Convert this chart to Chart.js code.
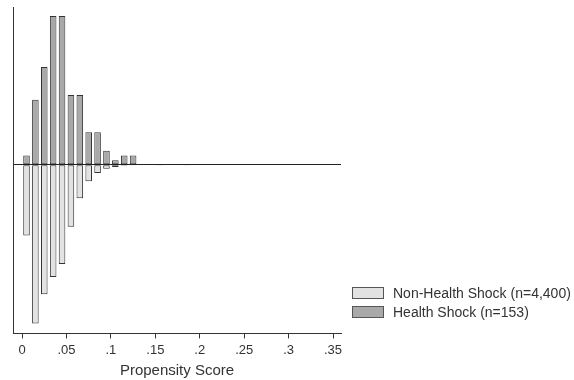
<!DOCTYPE html>
<html>
<head>
<meta charset="utf-8">
<script src="https://cdn.jsdelivr.net/npm/chart.js@4/dist/chart.umd.min.js"></script>
<style>
    body { margin: 0; background: #fff; }
    #wrap { position: relative; width: 574px; height: 380px; }
    #legend { position: absolute; left: 352px; top: 287px; font: 14px "Liberation Sans", Arial, sans-serif; color: #333; }
    #legend div { height: 19px; line-height: 13px; white-space: nowrap; }
    #legend span { display: inline-block; width: 30px; height: 10px; border: 1px solid #555; vertical-align: top; margin-right: 9px; }
</style>
</head>
<body>
<div id="wrap">
    <canvas id="psChart" width="574" height="380"></canvas>
    <div id="legend">
        <div><span style="background:#e2e2e2"></span>Non-Health Shock (n=4,400)</div>
        <div><span style="background:#a9a9a9"></span>Health Shock (n=153)</div>
    </div>
</div>
<script>
// bin centres of the propensity score histogram (bin width .01)
const binCenters = [0.005, 0.015, 0.025, 0.035, 0.045, 0.055, 0.065, 0.075, 0.085, 0.095,
                    0.105, 0.115, 0.125, 0.135, 0.145, 0.155, 0.165, 0.175, 0.185];
// share of each group in a bin
const healthShock = [0.0131, 0.0915, 0.1373, 0.2092, 0.2092, 0.0980, 0.0980, 0.0458, 0.0458, 0.0196,
                     0.0065, 0.0131, 0.0131, 0, 0, 0, 0, 0, 0];
const nonHealthShock = [0.0993, 0.2232, 0.1818, 0.1578, 0.1394, 0.0871, 0.0470, 0.0230, 0.0117, 0.0056,
                        0.0032, 0.0014, 0.0009, 0.0005, 0.0005, 0.0003, 0, 0, 0.0002];
const xTicks = [0, 0.05, 0.1, 0.15, 0.2, 0.25, 0.3, 0.35];

const fam = '"Liberation Sans", Arial, sans-serif';

const ctx = document.getElementById('psChart').getContext('2d');
const psChart = new Chart(ctx, {
    type: 'bar',
    data: {
        datasets: [{
            label: 'Health Shock (n=153)',
            data: binCenters.map((x, i) => ({ x: x, y: healthShock[i] })),
            backgroundColor: '#a9a9a9',
            borderColor: '#333',
            borderWidth: 1,
            borderSkipped: false
        }, {
            label: 'Non-Health Shock (n=4,400)',
            data: binCenters.map((x, i) => ({ x: x, y: -nonHealthShock[i] })), // mirrored below zero
            backgroundColor: '#e2e2e2',
            borderColor: '#333',
            borderWidth: 1,
            borderSkipped: false
        }]
    },
    options: {
        responsive: false,
        animation: false,
        layout: { padding: { left: 13, top: 7, right: 233, bottom: 0 } },
        datasets: { bar: { grouped: false, barPercentage: 0.74, categoryPercentage: 1 } },
        plugins: { legend: { display: false }, tooltip: { enabled: false } },
        scales: {
            x: {
                type: 'linear',
                offset: false,
                min: -0.0102,
                max: 0.359,
                afterBuildTicks: axis => { axis.ticks = xTicks.map(v => ({ value: v })); },
                ticks: {
                    font: { family: fam, size: 13 },
                    color: '#333',
                    padding: 4,
                    autoSkip: false,
                    maxRotation: 0,
                    callback: v => v === 0 ? '0' : String(v).replace(/^0/, '')
                },
                grid: { display: true, offset: false, drawOnChartArea: false, tickLength: 5, color: '#333' },
                border: { color: '#333', width: 1 },
                title: { display: true, text: 'Propensity Score', font: { family: fam, size: 15 }, color: '#333', padding: { top: 0, bottom: 0 } }
            },
            y: {
                min: -0.237,
                max: 0.2218,
                afterBuildTicks: axis => { axis.ticks = [{ value: 0 }]; },
                ticks: { display: false },
                grid: { drawTicks: false, color: '#222', lineWidth: 1 },
                border: { color: '#333', width: 1 }
            }
        }
    }
});
</script>
</body>
</html>
